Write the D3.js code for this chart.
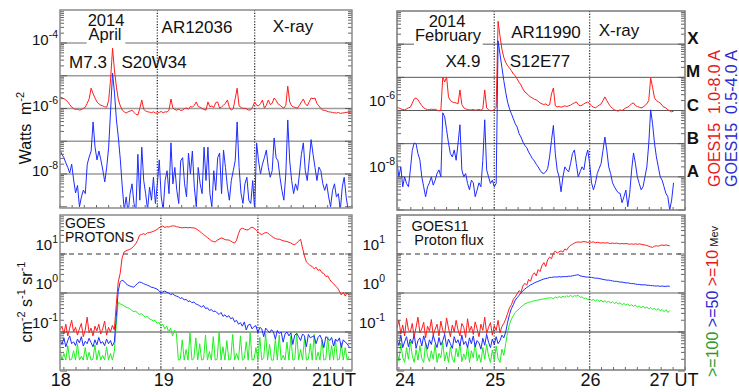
<!DOCTYPE html>
<html>
<head>
<meta charset="utf-8">
<script src="https://cdn.jsdelivr.net/npm/d3@7/dist/d3.min.js"></script>
<style>
html,body{margin:0;padding:0;background:#fff;}
svg{display:block;}
text{font-family:"Liberation Sans",Arial,Helvetica,sans-serif;white-space:pre;}
</style>
</head>
<body>
<svg id="chart" width="739" height="392"></svg>
<script>
// ================= DATA (values are log10 of the flux) =================
const xrayStep = 0.02;            // days between samples
const aprilXrayStart = 18.00;     // day of month, April 2014
const aprilLong = [ // GOES15 1.0-8.0 A, log10 W m-2
-5.65,-5.67,-5.70,-5.74,-5.80,-5.88,-5.96,-6.00,-6.03,-6.02,
-6.05,-6.03,-6.00,-5.96,-5.84,-5.70,-5.38,-5.55,-5.68,-5.80,
-5.86,-5.90,-5.92,-5.95,-5.96,-5.75,-5.10,-4.16,-4.85,-5.35,
-5.74,-5.92,-6.05,-6.10,-6.14,-6.10,-6.08,-6.05,-6.12,-6.18,
-6.20,-6.00,-5.74,-6.02,-6.08,-6.10,-6.11,-6.13,-6.10,-6.14,
-6.14,-6.12,-6.09,-6.13,-6.10,-6.11,-6.05,-5.71,-5.99,-6.03,
-6.05,-6.02,-6.06,-6.05,-6.00,-5.99,-6.02,-5.94,-5.96,-5.90,
-5.80,-5.94,-5.96,-6.00,-6.03,-6.05,-5.80,-5.95,-5.92,-5.97,
-5.82,-5.80,-5.99,-5.95,-5.90,-5.84,-5.74,-5.96,-6.05,-6.00,
-5.70,-5.38,-5.92,-5.97,-6.00,-5.99,-6.02,-6.05,-6.04,-5.95,
-5.80,-5.90,-5.92,-5.85,-5.74,-5.99,-5.90,-5.74,-5.88,-5.84,
-5.68,-5.75,-5.86,-5.90,-5.95,-5.99,-5.90,-5.32,-5.80,-5.92,
-5.95,-5.97,-5.99,-5.90,-5.80,-5.71,-5.85,-5.92,-5.80,-5.68,
-5.70,-5.68,-5.85,-5.92,-6.00,-6.05,-6.06,-6.08,-6.10,-6.11,
-6.12,-6.13,-6.14,-6.12,-6.15,-6.14,-6.13,-6.12,-6.11,-6.14,
-6.13];
const aprilShort = [ // GOES15 0.5-4.0 A
-7.27,-7.40,-7.50,-7.66,-7.80,-7.97,-7.70,-8.18,-8.58,-8.35,
-9.00,-8.70,-8.49,-8.60,-7.70,-7.48,-7.30,-6.41,-7.18,-7.57,
-7.30,-7.57,-7.88,-8.24,-7.79,-7.18,-6.05,-4.92,-5.53,-6.35,
-6.90,-7.57,-8.40,-9.10,-8.70,-9.20,-8.60,-8.30,-8.90,-9.10,
-7.40,-8.80,-7.18,-8.20,-8.60,-9.10,-8.40,-8.80,-8.10,-8.90,
-8.30,-7.57,-8.70,-9.10,-8.20,-7.90,-8.60,-7.05,-8.30,-7.80,
-8.50,-8.90,-7.60,-7.50,-8.30,-8.70,-7.36,-8.00,-7.30,-8.40,
-9.00,-7.80,-8.30,-8.60,-7.18,-8.20,-7.18,-8.60,-9.00,-7.90,
-8.50,-7.50,-7.36,-8.60,-7.27,-7.80,-8.40,-8.80,-8.20,-7.90,
-7.60,-6.41,-7.80,-8.60,-8.90,-8.30,-8.10,-8.80,-8.90,-8.20,
-9.10,-7.05,-7.60,-8.00,-7.70,-7.50,-7.27,-7.80,-8.10,-7.90,
-6.90,-7.50,-7.60,-8.10,-8.50,-8.80,-8.00,-6.35,-7.60,-8.20,
-8.60,-8.30,-8.50,-8.00,-7.40,-7.05,-7.90,-8.20,-7.60,-6.95,
-7.40,-7.80,-8.20,-7.79,-7.90,-8.30,-8.50,-8.30,-8.70,-9.00,
-8.50,-8.30,-8.70,-8.60,-9.10,-8.40,-8.10,-8.70,-9.10,-9.30,
-9.30];
const febXrayStart = 23.98;       // day of month, February 2014
const febLong = [
-5.92,-5.92,-5.95,-5.97,-5.98,-5.95,-5.92,-5.90,-5.78,-5.65,
-5.62,-5.68,-5.77,-5.85,-5.92,-5.95,-5.98,-5.97,-5.96,-5.97,
-5.96,-5.99,-6.01,-5.99,-4.99,-5.14,-4.99,-5.59,-5.70,-5.74,
-5.76,-5.77,-5.80,-5.38,-5.82,-5.92,-5.95,-5.97,-5.98,-5.98,
-5.97,-5.99,-5.98,-5.97,-5.99,-5.95,-5.38,-5.92,-5.98,-6.01,
-6.00,-5.98,-5.90,-3.31,-3.75,-4.15,-4.40,-4.55,-4.65,-4.72,
-4.80,-4.90,-4.95,-5.05,-5.15,-5.23,-5.35,-5.44,-5.48,-5.55,
-5.59,-5.62,-5.66,-5.68,-5.72,-5.77,-5.80,-5.82,-5.80,-5.85,
-5.83,-5.50,-5.32,-5.86,-5.89,-5.88,-5.90,-5.88,-5.86,-5.88,
-5.86,-5.84,-5.80,-5.77,-5.74,-5.82,-5.86,-5.84,-5.80,-5.77,
-5.74,-5.80,-5.86,-5.90,-5.92,-5.88,-5.84,-5.80,-5.70,-5.59,
-5.70,-5.80,-5.88,-5.94,-5.98,-6.00,-6.02,-5.98,-6.00,-5.96,
-5.92,-5.90,-5.85,-5.80,-5.77,-5.85,-5.88,-5.90,-5.92,-5.90,
-5.85,-5.80,-5.70,-5.02,-5.30,-5.62,-5.70,-5.74,-5.77,-5.85,
-5.90,-5.92,-5.98,-6.01,-6.04,-6.02];
const febShort = [
-7.58,-8.00,-7.70,-8.30,-8.00,-8.20,-8.30,-7.79,-7.20,-6.98,
-7.00,-7.30,-7.49,-8.00,-8.30,-8.60,-8.30,-8.18,-8.00,-8.25,
-8.10,-7.90,-7.79,-8.00,-6.07,-6.19,-6.58,-6.98,-7.30,-7.40,
-7.19,-7.50,-7.00,-6.43,-7.79,-8.00,-7.90,-8.20,-8.39,-8.10,
-8.18,-8.60,-8.40,-8.18,-8.30,-7.50,-6.28,-7.79,-8.00,-8.20,
-8.10,-8.30,-8.20,-3.90,-4.30,-4.70,-5.10,-5.45,-5.75,-5.95,
-6.10,-6.25,-6.40,-6.50,-6.70,-6.80,-6.95,-7.05,-7.12,-7.25,
-7.35,-7.45,-7.52,-7.62,-7.70,-7.80,-7.88,-7.90,-7.85,-7.75,
-7.40,-6.90,-6.45,-7.30,-7.80,-8.00,-8.45,-8.00,-7.70,-7.79,
-7.85,-7.60,-7.30,-7.19,-7.60,-8.00,-7.85,-7.70,-7.79,-7.40,
-7.19,-7.60,-8.18,-8.39,-8.20,-7.90,-7.75,-7.60,-7.20,-6.80,
-7.20,-7.70,-7.90,-8.18,-8.30,-8.40,-8.48,-8.50,-8.78,-8.60,
-8.40,-8.90,-8.50,-7.80,-7.28,-7.60,-8.00,-8.20,-8.39,-8.30,
-8.00,-7.70,-7.00,-5.98,-6.40,-6.98,-7.40,-7.70,-8.00,-8.10,
-8.30,-8.50,-8.60,-9.00,-8.70,-8.18];

const protonStep = 0.02;
const aprilProtonStart = 17.96;
const aprilP10 = [ // >=10 MeV, log10 pfu
-0.95,-0.85,-1.05,-0.80,-1.10,-0.90,-0.70,-1.00,-0.88,-1.08,
-0.92,-0.78,-1.12,-0.95,-0.62,-1.02,-0.90,-1.10,-0.85,-0.97,
-0.80,-1.05,-0.92,-0.72,-1.08,-0.88,-1.00,-0.83,-0.95,
-0.30,0.28,0.50,0.90,1.05,1.08,1.10,1.12,1.15,1.20,1.26,
1.35,1.48,1.50,1.52,1.50,1.54,1.55,1.56,1.58,1.60,
1.63,1.67,1.70,1.72,1.68,1.70,1.69,1.71,1.72,1.72,
1.70,1.69,1.68,1.67,1.68,1.68,1.67,1.68,1.67,1.67,
1.65,1.62,1.58,1.54,1.50,1.46,1.42,1.38,1.34,1.32,
1.31,1.35,1.38,1.41,1.40,1.37,1.36,1.36,1.33,1.30,
1.28,1.35,1.52,1.64,1.66,1.64,1.62,1.62,1.66,1.69,
1.66,1.62,1.57,1.52,1.50,1.53,1.55,1.54,1.50,1.46,
1.42,1.40,1.38,1.38,1.36,1.34,1.33,1.32,1.30,1.28,
1.25,1.24,1.28,1.33,1.38,1.15,0.95,0.80,0.75,0.70,
0.68,0.62,0.66,0.58,0.60,0.52,0.50,0.42,0.44,0.35,
0.28,0.24,0.18,0.13,0.05,-0.05,0.02,-0.08,0.00,-0.06];
const aprilP50 = [ // >=50 MeV
-1.20,-1.32,-1.15,-1.38,-1.22,-1.10,-1.30,-1.25,-1.35,-1.18,
-1.28,-1.12,-1.36,-1.24,-1.30,-1.16,-1.27,-1.38,-1.20,-1.33,
-1.14,-1.29,-1.25,-1.35,-1.18,-1.30,-1.22,-1.36,-1.26,
-0.60,0.05,0.28,0.33,0.30,0.24,0.20,0.18,0.16,0.15,0.20,
0.25,0.28,0.27,0.24,0.22,0.20,0.18,0.15,0.14,0.12,
0.10,0.06,0.00,0.03,0.05,0.02,0.00,-0.04,-0.02,-0.06,-0.08,
-0.10,-0.14,-0.12,-0.18,-0.16,-0.22,-0.20,-0.25,-0.23,-0.28,-0.30,-0.33,
-0.36,-0.32,-0.40,-0.38,-0.45,-0.42,-0.48,-0.46,-0.51,-0.55,
-0.50,-0.60,-0.56,-0.62,-0.58,-0.66,-0.63,
-0.74,-0.70,-0.80,-0.76,-0.85,-0.74,-0.95,-0.82,-0.80,-0.92,
-0.86,-0.84,-1.02,-0.88,-0.92,-1.12,-0.90,-0.96,-1.02,-0.94,
-1.00,-1.18,-0.96,-1.04,-1.00,-1.26,-1.05,-1.00,-1.10,-1.02,
-1.32,-1.08,-1.04,-1.12,-1.22,-1.05,-1.10,-1.38,-1.06,-1.15,
-1.12,-1.10,-1.30,-1.14,-1.08,-1.20,-1.40,-1.12,-1.16,-1.22,
-1.14,-1.36,-1.18,-1.24,-1.15,-1.40,-1.20,-1.26,-1.30,-1.38];
const aprilP100 = [ // >=100 MeV
-1.45,-1.72,-1.55,-1.72,-1.35,-1.72,-1.70,-1.48,-1.72,-1.30,
-1.72,-1.62,-1.72,-1.40,-1.72,-1.52,-1.72,-1.70,-1.33,-1.72,
-1.47,-1.72,-1.60,-1.72,-1.38,-1.72,-1.55,-1.72,-1.50,
-0.80,-0.23,-0.28,-0.30,-0.33,-0.36,-0.38,-0.40,-0.45,-0.48,-0.46,
-0.52,-0.55,-0.53,-0.58,-0.62,-0.60,-0.66,-0.68,-0.72,-0.70,
-0.78,-0.75,-0.85,-0.80,-0.92,-0.85,-1.00,-0.90,-1.10,-0.95,
-1.05,-1.72,-1.70,-1.20,-1.72,-1.45,-1.72,-1.02,-1.72,-1.68,
-1.15,-1.72,-1.30,-1.72,-1.70,-1.08,-1.72,-1.50,-1.72,-1.12,
-1.72,-1.70,-1.00,-1.72,-1.38,-1.72,-1.22,-1.72,-1.70,-1.06,
-1.72,-1.55,-1.72,-1.10,-1.72,-1.68,-1.25,-1.72,-1.02,-1.72,
-1.70,-1.40,-1.72,-1.14,-1.72,-1.66,-1.04,-1.72,-1.32,-1.72,
-1.72,-1.18,-1.72,-1.08,-1.72,-1.60,-1.72,-1.26,-1.72,-1.10,
-1.72,-1.70,-1.02,-1.72,-1.45,-1.72,-1.16,-1.72,-1.70,-1.30,
-1.72,-1.06,-1.72,-1.52,-1.72,-1.20,-1.72,-1.70,-1.12,-1.72,
-1.35,-1.72,-1.20,-1.72,-1.70,-1.28,-1.72,-1.40,-1.72,-1.62];
const febProtonStart = 23.98;
const febP10 = [
-0.90,-0.70,-1.05,-0.82,-1.10,-0.65,-0.95,-1.00,-0.78,-1.12,
-0.88,-0.62,-1.02,-0.92,-0.75,-1.15,-0.85,-0.98,-0.68,-1.08,
-0.93,-0.80,-1.10,-0.72,-0.96,-1.05,-0.64,-0.90,-1.12,-0.82,
-1.00,-0.70,-0.95,-1.10,-0.78,-0.88,-1.14,-0.66,-0.98,-0.85,
-1.06,-0.74,-0.92,-1.12,-0.80,-0.96,-0.62,-1.04,-0.88,-0.76,
-1.08,-0.84,-0.96,-0.70,-1.02,-0.86,-0.78,
-0.67,-0.52,-0.38,-0.30,-0.16,-0.10,-0.02,0.06,0.02,0.18,
0.25,0.20,0.35,0.30,0.45,0.52,0.44,0.60,0.55,0.70,
0.78,0.68,0.85,0.92,0.88,1.02,1.08,1.02,1.06,1.08,
1.05,1.13,1.10,1.18,1.22,1.25,1.28,1.30,1.31,1.30,
1.31,1.32,1.31,1.30,1.31,1.30,1.31,1.29,1.30,1.29,
1.28,1.29,1.28,1.29,1.28,1.27,1.28,1.27,1.28,1.27,
1.26,1.27,1.26,1.27,1.26,1.25,1.26,1.25,1.26,1.25,
1.26,1.25,1.24,1.23,1.22,1.20,1.18,1.17,1.20,1.21,
1.20,1.22,1.23,1.22,1.23,1.22,1.21];
const febP50 = [
-1.20,-1.35,-1.08,-1.40,-1.25,-1.12,-1.38,-1.18,-1.30,-1.05,
-1.42,-1.22,-1.15,-1.36,-1.10,-1.28,-1.44,-1.20,-1.32,-1.08,
-1.26,-1.40,-1.14,-1.34,-1.22,-1.06,-1.38,-1.18,-1.30,-1.42,
-1.12,-1.28,-1.20,-1.36,-1.08,-1.32,-1.24,-1.40,-1.15,-1.30,
-1.10,-1.38,-1.22,-1.28,-1.44,-1.16,-1.34,-1.06,-1.26,-1.40,
-1.18,-1.32,-1.12,-1.30,-1.22,-1.08,-1.15,
-1.00,-0.75,-0.55,-0.40,-0.30,-0.18,-0.12,-0.06,0.00,0.06,
0.10,0.14,0.17,0.21,0.23,0.26,0.28,0.30,0.32,0.34,
0.36,0.37,0.38,0.40,0.40,0.41,0.41,0.41,0.42,0.41,
0.42,0.42,0.42,0.43,0.43,0.44,0.45,0.46,0.47,0.44,
0.43,0.42,0.41,0.41,0.40,0.40,0.39,0.38,0.38,0.37,
0.36,0.35,0.34,0.33,0.33,0.32,0.31,0.30,0.30,0.29,
0.28,0.28,0.27,0.26,0.26,0.25,0.24,0.24,0.23,0.22,
0.22,0.21,0.21,0.21,0.20,0.20,0.19,0.19,0.18,0.18,
0.18,0.17,0.18,0.17,0.17,0.18,0.17];
const febP100 = [
-1.50,-1.75,-1.30,-1.65,-1.78,-1.40,-1.70,-1.25,-1.60,-1.78,
-1.45,-1.72,-1.35,-1.68,-1.78,-1.28,-1.62,-1.76,-1.48,-1.70,
-1.32,-1.78,-1.55,-1.66,-1.26,-1.74,-1.52,-1.78,-1.38,-1.68,
-1.78,-1.42,-1.64,-1.30,-1.76,-1.56,-1.70,-1.34,-1.78,-1.48,
-1.66,-1.28,-1.74,-1.58,-1.78,-1.40,-1.70,-1.32,-1.62,-1.78,
-1.46,-1.72,-1.36,-1.68,-1.78,-1.44,-1.60,-1.30,
-1.00,-0.80,-0.67,-0.58,-0.50,-0.45,-0.41,-0.36,-0.32,-0.28,
-0.26,-0.24,-0.23,-0.21,-0.20,-0.19,-0.18,-0.17,-0.16,-0.15,
-0.14,-0.13,-0.13,
-0.12,-0.15,-0.10,-0.13,-0.09,-0.12,-0.08,-0.11,-0.07,-0.10,
-0.06,-0.10,-0.07,-0.08,-0.06,-0.11,-0.10,-0.14,-0.13,-0.17,
-0.15,-0.19,-0.16,-0.21,-0.17,-0.22,-0.18,-0.23,-0.20,-0.24,
-0.21,-0.26,-0.22,-0.27,-0.24,-0.28,-0.25,-0.30,-0.27,-0.31,
-0.28,-0.33,-0.30,-0.34,-0.31,-0.36,-0.33,-0.38,-0.34,-0.39,
-0.36,-0.41,-0.37,-0.42,-0.39,-0.44,-0.40,-0.46,-0.42,-0.48,-0.43,-0.50,-0.45];

const aprilDays = [18, 19, 20, 21];
const febDays = [24, 25, 26, 27];
const aprilXrayLabelExps = [-4, -6, -8];
const febXrayLabelExps = [-6, -8];
const protonLabelExps = [1, 0, -1];
const flareClasses = [["X", 1e-4], ["M", 1e-5], ["C", 1e-6], ["B", 1e-7], ["A", 1e-8]];
const xrayGridLevels = [1e-4, 1e-5, 1e-6, 1e-7, 1e-8];

// ================= DRAWING =================
const RED = "#ff1c1c", BLUE = "#1e2cff", GREEN = "#1ff01f";
const svg = d3.select("#chart");
const defs = svg.append("defs");

const layout = {
  tl: {left: 60, right: 352, top: 10, bottom: 208, xDom: [18, 21], yDom: [1e-9, 1e-3], yRange: [206.75, 10.25]},
  tr: {left: 397, right: 685, top: 11, bottom: 210, xDom: [23.98, 27], yDom: [1e-9, 1e-3], yRange: [210, 11]},
  bl: {left: 60, right: 352, top: 215, bottom: 370, xDom: [17.96, 20.97], yDom: [1e-2, 1e2], yRange: [371, 215]},
  br: {left: 397, right: 685, top: 215, bottom: 370, xDom: [23.98, 27], yDom: [1e-2, 1e2], yRange: [371, 215]}
};

function toPoints(values, start, step) {
  return values.map((v, i) => ({t: start + i * step, f: Math.pow(10, v)}));
}

function drawPanel(key, cfg) {
  const p = layout[key];
  const x = d3.scaleLinear().domain(p.xDom).range([p.left, p.right]);
  const y = d3.scaleLog().domain(p.yDom).range(p.yRange);
  const g = svg.append("g");
  defs.append("clipPath").attr("id", "clip-" + key).append("rect")
    .attr("x", p.left).attr("y", p.top).attr("width", p.right - p.left).attr("height", p.bottom - p.top);

  cfg.grid.forEach(d => g.append("line")
    .attr("x1", p.left).attr("x2", p.right).attr("y1", y(d.v)).attr("y2", y(d.v))
    .attr("stroke", d.color).attr("stroke-width", d.width).attr("stroke-dasharray", d.dash || null));

  cfg.days.filter(d => d > p.xDom[0] + 0.1 && d < p.xDom[1] - 0.1).forEach(d => g.append("line")
    .attr("x1", x(d)).attr("x2", x(d)).attr("y1", p.top).attr("y2", p.bottom)
    .attr("stroke", "#333").attr("stroke-width", 1.3).attr("stroke-dasharray", "1.2,1.6"));

  const line = d3.line().x(d => x(d.t)).y(d => y(d.f));
  const dg = g.append("g").attr("clip-path", "url(#clip-" + key + ")");
  cfg.series.forEach(s => dg.append("path").datum(toPoints(s.values, s.start, s.step))
    .attr("d", line).attr("fill", "none").attr("stroke", s.color).attr("stroke-width", 1)
    .attr("stroke-linejoin", "round"));

  // log minor ticks on left and right edges
  const ticks = [];
  const e0 = Math.round(Math.log10(p.yDom[0])), e1 = Math.round(Math.log10(p.yDom[1]));
  for (let e = e0; e < e1; e++) for (let k = 1; k < 10; k++) ticks.push({v: k * Math.pow(10, e), major: k === 1});
  ticks.forEach(t => {
    const yy = y(t.v), len = t.major ? 7 : 4;
    g.append("line").attr("x1", p.left).attr("x2", p.left + len).attr("y1", yy).attr("y2", yy)
      .attr("stroke", "#555").attr("stroke-width", 0.9);
    g.append("line").attr("x1", p.right).attr("x2", p.right - len).attr("y1", yy).attr("y2", yy)
      .attr("stroke", "#555").attr("stroke-width", 0.9);
  });
  // 3-hour ticks on bottom edge
  for (let t = Math.ceil(p.xDom[0] * 8) / 8; t <= p.xDom[1]; t += 0.125) {
    g.append("line").attr("x1", x(t)).attr("x2", x(t)).attr("y1", p.bottom).attr("y2", p.bottom - 3)
      .attr("stroke", "#555").attr("stroke-width", 0.9);
  }
  g.append("rect").attr("x", p.left).attr("y", p.top).attr("width", p.right - p.left)
    .attr("height", p.bottom - p.top).attr("fill", "none").attr("stroke", cfg.frame).attr("stroke-width", 1.5);

  // y tick labels 10^n
  cfg.labelExps.forEach(e => {
    const t = svg.append("text").attr("x", cfg.labelX).attr("y", y(Math.pow(10, e)) + cfg.labelDy)
      .attr("text-anchor", "end").attr("font-size", 15).attr("fill", "#111");
    t.append("tspan").text("10");
    t.append("tspan").attr("dy", -7).attr("font-size", 10.5).text(String(e));
  });
  return {x, y, p};
}

const TL = drawPanel("tl", {
  grid: xrayGridLevels.map(v => ({v, color: "#9c9c9c", width: 1.5})),
  days: aprilDays, frame: "#8a8a8a",
  series: [{values: aprilLong, start: aprilXrayStart, step: xrayStep, color: RED},
           {values: aprilShort, start: aprilXrayStart, step: xrayStep, color: BLUE}],
  labelExps: aprilXrayLabelExps, labelX: 58, labelDy: 2
});
const TR = drawPanel("tr", {
  grid: xrayGridLevels.map(v => ({v, color: "#5a5a5a", width: 1})),
  days: febDays, frame: "#7a7a7a",
  series: [{values: febLong, start: febXrayStart, step: xrayStep, color: RED},
           {values: febShort, start: febXrayStart, step: xrayStep, color: BLUE}],
  labelExps: febXrayLabelExps, labelX: 395, labelDy: -5
});
const BL = drawPanel("bl", {
  grid: [{v: 10, color: "#333", width: 1, dash: "5,4"}, {v: 1, color: "#8a8a8a", width: 1.5}, {v: 0.1, color: "#444", width: 1}],
  days: aprilDays, frame: "#8a8a8a",
  series: [{values: aprilP100, start: aprilProtonStart, step: protonStep, color: GREEN},
           {values: aprilP50, start: aprilProtonStart, step: protonStep, color: BLUE},
           {values: aprilP10, start: aprilProtonStart, step: protonStep, color: RED}],
  labelExps: protonLabelExps, labelX: 58, labelDy: -4
});
const BR = drawPanel("br", {
  grid: [{v: 10, color: "#333", width: 1, dash: "5,4"}, {v: 1, color: "#666", width: 1.2}, {v: 0.1, color: "#333", width: 1}],
  days: febDays, frame: "#7a7a7a",
  series: [{values: febP100, start: febProtonStart, step: protonStep, color: GREEN},
           {values: febP50, start: febProtonStart, step: protonStep, color: BLUE},
           {values: febP10, start: febProtonStart, step: protonStep, color: RED}],
  labelExps: protonLabelExps, labelX: 385, labelDy: -4
});

// x tick labels
function dayLabels(panel, days, dxs, lastText, lastAnchor, lastDx) {
  days.forEach((d, i) => {
    const last = i === days.length - 1;
    svg.append("text").attr("x", panel.x(d) + (last ? lastDx : dxs[i])).attr("y", 386)
      .attr("text-anchor", last ? lastAnchor : "middle").attr("font-size", 18).attr("fill", "#111")
      .text(last ? lastText : String(d));
  });
}
dayLabels(BL, aprilDays, [-3, 3, 4], "21UT", "end", 1);
dayLabels(BR, febDays, [6, 1, 1], "27 UT", "middle", -11);

// header annotations
function label(txt, x, y, size, opts) {
  const t = svg.append("text").attr("x", x).attr("y", y).attr("text-anchor", "middle")
    .attr("font-size", size).attr("fill", "#111").text(txt);
  if (opts && opts.bold) t.attr("font-weight", "bold");
  return t;
}
// two-line label drawn as one text element (lines as tspans), optional white backing box
function twoLine(lines, size, anchor, boxed) {
  const g = svg.append("g");
  const rect = boxed ? g.append("rect").attr("fill", "#fff") : null;
  const t = g.append("text").attr("font-size", size).attr("fill", "#111").attr("text-anchor", anchor);
  lines.forEach((l, i) => t.append("tspan").attr("x", l[1]).attr(i === 0 ? "y" : "dy", i === 0 ? l[2] : l[2] - lines[i - 1][2]).text(l[0]));
  if (rect) {
    const b = t.node().getBBox();
    rect.attr("x", b.x - 1).attr("y", b.y + 1).attr("width", b.width + 2).attr("height", b.height + 1);
  }
}
twoLine([["2014", 106, 26], ["April", 105, 40]], 16.5, "middle", true);
label("AR12036", 197, 33, 17);
label("X-ray", 293, 32, 17);
label("M7.3", 88, 68, 17);
label("S20W34", 154, 68, 17);
twoLine([["2014", 447, 27], ["February", 448, 41]], 16.5, "middle", true);
label("AR11990", 546, 38, 17);
label("X-ray", 619, 36, 17);
label("X4.9", 463, 67, 17);
label("S12E77", 540, 67, 17);

// GOES flare classes
flareClasses.forEach(([c, v]) => label(c, 693, TR.y(v), 17, {bold: true}));

// proton panel titles
twoLine([["GOES", 65, 228], ["PROTONS", 65, 242]], 14, "start", false);
twoLine([["GOES11", 440, 231], ["Proton flux", 449, 245]], 14.5, "middle", false);

// axis titles
const t1 = svg.append("text").attr("transform", "translate(31,128) rotate(-90)").attr("text-anchor", "middle")
  .attr("font-size", 16).attr("fill", "#111");
t1.append("tspan").text("Watts  m");
t1.append("tspan").attr("dy", -7).attr("font-size", 11).text("-2");
const t2 = svg.append("text").attr("transform", "translate(32,302) rotate(-90)").attr("text-anchor", "middle")
  .attr("font-size", 16).attr("fill", "#111");
t2.append("tspan").text("cm");
t2.append("tspan").attr("dy", -7).attr("font-size", 11).text("-2");
t2.append("tspan").attr("dy", 7).text(" s");
t2.append("tspan").attr("dy", -7).attr("font-size", 11).text("-1");
t2.append("tspan").attr("dy", 7).text(" sr");
t2.append("tspan").attr("dy", -7).attr("font-size", 11).text("-1");

// right-hand legends
svg.append("text").attr("transform", "translate(720,187) rotate(-90)").attr("font-size", 16)
  .attr("fill", "#e8161b").text("GOES15  1.0-8.0 A");
svg.append("text").attr("transform", "translate(737,187) rotate(-90)").attr("font-size", 16)
  .attr("fill", "#2b2bd0").text("GOES15  0.5-4.0 A");
const pl = svg.append("text").attr("transform", "translate(718,377) rotate(-90)").attr("font-size", 16);
pl.append("tspan").attr("fill", "#2a9a2a").text(">=100 ");
pl.append("tspan").attr("fill", "#2b2bd0").text(">=50 ");
pl.append("tspan").attr("fill", "#e8161b").text(">=10");
pl.append("tspan").attr("fill", "#111").attr("font-size", 11).attr("dx", 3).text("Mev");
</script>
</body>
</html>
